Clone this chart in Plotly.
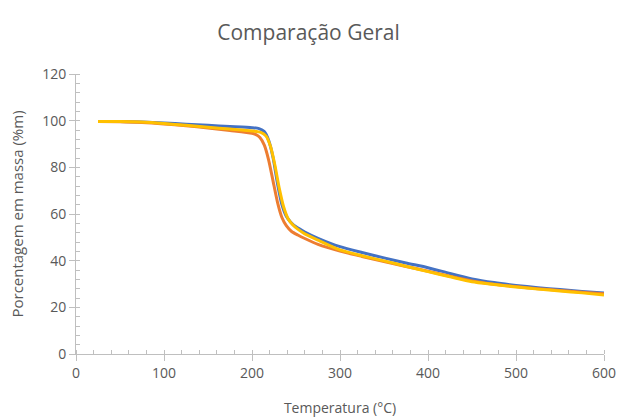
import plotly.graph_objects as go

temp_blue = [25, 50, 75, 100, 125, 150, 175, 200, 208, 214, 219, 224, 229, 234, 239, 244, 250, 260, 275, 300, 325, 350, 375, 400, 425, 450, 475, 500, 525, 550, 575, 600]
mass_blue = [99.6, 99.6, 99.4, 99.0, 98.5, 98.0, 97.5, 97.0, 96.6, 95.3, 91.5, 84, 73, 64, 59, 56.5, 54.5, 52.3, 49.6, 46.0, 43.5, 41.2, 39.0, 37.0, 34.5, 32.2, 30.6, 29.4, 28.4, 27.6, 26.8, 26.1]

temp_orange = [25, 50, 75, 100, 125, 150, 175, 200, 204, 209, 214, 219, 224, 229, 234, 239, 245, 252, 260, 275, 300, 325, 350, 375, 400, 425, 450, 475, 500, 525, 550, 575, 600]
mass_orange = [99.6, 99.5, 99.2, 98.6, 97.8, 96.9, 95.8, 94.6, 94.1, 92.8, 89.5, 83, 74, 65, 58.5, 55, 52.5, 51, 49.5, 47.0, 44.1, 41.8, 39.6, 37.5, 35.5, 33.3, 31.3, 29.9, 28.9, 28.0, 27.2, 26.5, 25.8]

temp_gold = [25, 50, 75, 100, 125, 150, 175, 200, 210, 216, 221, 226, 231, 236, 241, 246, 252, 260, 275, 300, 325, 350, 375, 400, 425, 450, 475, 500, 525, 550, 575, 600]
mass_gold = [99.6, 99.6, 99.4, 98.8, 98.0, 97.2, 96.4, 95.6, 95.0, 93.4, 89, 81, 71, 63, 58, 55.5, 53.5, 51.5, 48.8, 44.6, 42.1, 39.9, 37.6, 35.3, 33.1, 31.0, 29.8, 28.7, 27.8, 27.0, 26.2, 25.3]

series = [
    ("Série 1", temp_blue, mass_blue, "#4472C4"),
    ("Série 2", temp_orange, mass_orange, "#ED7D31"),
    ("Série 3", temp_gold, mass_gold, "#FFC000"),
]

fig = go.Figure()
for name, xs, ys, color in series:
    fig.add_trace(go.Scatter(x=xs, y=ys, mode="lines", name=name,
                             line=dict(color=color, width=3, shape="spline", smoothing=0.6)))

font_family = "Open Sans, Noto Sans, sans-serif"
axis_color = "#BFBFBF"
text_color = "#595959"

W, H = 617, 417
fig.update_layout(
    width=W, height=H,
    margin=dict(l=76, r=13, t=74, b=63, autoexpand=False),
    paper_bgcolor="white", plot_bgcolor="white",
    showlegend=False,
    font=dict(family=font_family, color=text_color, size=13),
    title=dict(text="Comparação Geral", x=0.5, xanchor="center", xref="container",
               y=1 - 33 / H, yref="container", yanchor="middle", automargin=False,
               font=dict(size=21, color=text_color, family=font_family)),
)
fig.update_xaxes(
    range=[0, 600], dtick=100, showgrid=False, zeroline=False, automargin=False,
    showline=True, linecolor=axis_color, linewidth=1,
    ticks="outside", ticklen=6, tickcolor=axis_color,
    minor=dict(ticks="inside", dtick=20, ticklen=4, tickcolor=axis_color, showgrid=False),
    tickfont=dict(size=14, color=text_color),
    title=dict(text="Temperatura (°C)", font=dict(size=14, color=text_color), standoff=22),
)
fig.update_yaxes(
    range=[0, 120], dtick=20, showgrid=False, zeroline=False, automargin=False,
    showline=True, linecolor=axis_color, linewidth=1,
    ticks="outside", ticklen=6, tickcolor=axis_color,
    minor=dict(ticks="inside", dtick=4, ticklen=4, tickcolor=axis_color, showgrid=False),
    tickfont=dict(size=14, color=text_color),
    title=dict(text="Porcentagem em massa (%m)", font=dict(size=15, color=text_color), standoff=14),
)

fig.write_html("out.html", config={"displayModeBar": False},
               post_script="document.body.style.margin='0';document.body.style.overflow='hidden';")
